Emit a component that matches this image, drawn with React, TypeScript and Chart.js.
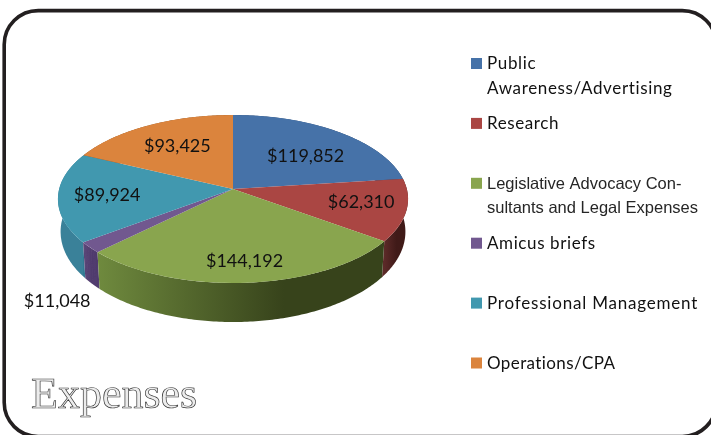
import React, { useEffect, useRef } from "react";
import { Chart, registerables } from "chart.js";

Chart.register(...registerables);

const categories = [
  "Public\nAwareness/Advertising",
  "Research",
  "Legislative Advocacy Con-\nsultants and Legal Expenses",
  "Amicus briefs",
  "Professional Management",
  "Operations/CPA",
];
const expenses = [119852, 62310, 144192, 11048, 89924, 93425];
const topColors = ["#4672A8", "#AA4643", "#89A54E", "#71588F", "#4198AF", "#DB843D"];
const wallStops = [
  ["#2c4669", "#2c4669"],
  ["#5c2a28", "#401a18"],
  ["#6f8a3e", "#37431b"],
  ["#5a4577", "#4f3a6d"],
  ["#3a8199", "#327a93"],
  ["#8a5326", "#8a5326"],
];
const labelRadius = [0.65, 0.75, 0.75, 1.3, 0.75, 0.65];
const labelNudgeX = [2, -1, 1, 15, 5, 1];
const labelNudgeY = [5, -3, 4, 34, 0, 0];
const legendSpacing = [0.65, 0.6, 0, 0.6, 0.8, 0.4];

const W = 711;
const H = 435;
const CX = 233;
const CY = 189;
const SRC_R = 175;
const R = 173.8;
const A = 82.8;
const K = -0.119;
const WALL_DY = 32;
const WALL_SX = 0.985;
const WALL_SY = 1.075;

function project(theta: number, t: number, lower = false) {
  const x = Math.cos(theta) * t;
  const y = Math.sin(theta) * t;
  const w = 1 + K * y;
  const sx = lower ? WALL_SX : 1;
  const sy = lower ? WALL_SY : 1;
  return { x: CX + (sx * R * x) / w, y: CY + (lower ? WALL_DY : 0) + (sy * A * y) / w };
}

const perspectivePie = {
  id: "perspectivePie",
  beforeDatasetsDraw(chart: any) {
    const ctx: CanvasRenderingContext2D = chart.ctx;
    const arcs = chart.getDatasetMeta(0).data as any[];
    const front = Math.PI / 2;
    const order = arcs
      .map((arc, i) => ({ arc, i, mid: (arc.startAngle + arc.endAngle) / 2 }))
      .sort((p, q) => {
        const d = (m: number) => Math.abs(Math.atan2(Math.sin(m - front), Math.cos(m - front)));
        return d(q.mid) - d(p.mid);
      });
    for (const { arc, i } of order) {
      const steps = 120;
      const x0 = project(arc.startAngle, 1).x;
      const x1 = project(arc.endAngle, 1).x;
      const g = ctx.createLinearGradient(Math.min(x0, x1), 0, Math.max(x0, x1), 0);
      g.addColorStop(0, wallStops[i][0]);
      g.addColorStop(0.65, wallStops[i][1]);
      g.addColorStop(1, wallStops[i][1]);
      ctx.fillStyle = g;
      // one path of swept edges, filled once, so no seams show between the steps
      ctx.beginPath();
      for (let s = 0; s < steps; s++) {
        const a = arc.startAngle + ((arc.endAngle - arc.startAngle) * s) / steps;
        const b = arc.startAngle + ((arc.endAngle - arc.startAngle) * (s + 1)) / steps;
        const p1 = project(a, 1);
        const p2 = project(b, 1);
        const p3 = project(b, 1, true);
        const p4 = project(a, 1, true);
        ctx.moveTo(p1.x, p1.y);
        ctx.lineTo(p2.x, p2.y);
        ctx.lineTo(p3.x, p3.y);
        ctx.lineTo(p4.x, p4.y);
        ctx.closePath();
      }
      ctx.fill();
    }
    const y0 = Math.floor(CY - 74) - 2;
    const y1 = Math.ceil(CY + 94) + 2;
    for (let row = y0; row < y1; row++) {
      const yp = row + 0.5 - CY;
      const yn = yp / (A - K * yp);
      const w = 1 + K * yn;
      const sx = R / (SRC_R * w);
      const sy = A / (w * w * SRC_R);
      ctx.save();
      ctx.beginPath();
      ctx.rect(0, row, W, 1);
      ctx.clip();
      ctx.translate(CX, CY + yp);
      ctx.scale(sx, sy);
      ctx.translate(-CX, -(CY + yn * SRC_R));
      arcs.forEach((arc) => arc.draw(ctx));
      ctx.restore();
    }
    return false;
  },
  afterDraw(chart: any) {
    const ctx: CanvasRenderingContext2D = chart.ctx;
    const arcs = chart.getDatasetMeta(0).data as any[];
    ctx.save();

    // frame
    ctx.strokeStyle = "#231f20";
    ctx.lineWidth = 3.6;
    ctx.beginPath();
    ctx.roundRect(4.2, 10.6, 712, 426, 34);
    ctx.stroke();

    // value labels
    ctx.textAlign = "center";
    ctx.textBaseline = "middle";
    ctx.fillStyle = "#111";
    ctx.font = "18px Lato";
    arcs.forEach((arc, i) => {
      const mid = (arc.startAngle + arc.endAngle) / 2;
      const p = project(mid, labelRadius[i]);
      const text = "$" + expenses[i].toLocaleString("en-US");
      ctx.fillText(text, p.x + labelNudgeX[i], p.y + labelNudgeY[i]);
    });

    // legend
    ctx.textAlign = "left";
    ctx.textBaseline = "alphabetic";
    categories.forEach((cat, i) => {
      const top = 58 + i * 59.9;
      ctx.fillStyle = topColors[i];
      ctx.fillRect(471, top, 11, 11);
      const isArial = i === 2;
      ctx.font = isArial ? "16.5px 'Liberation Sans'" : "17px Lato";
      (ctx as any).letterSpacing = legendSpacing[i] + "px";
      ctx.fillStyle = isArial ? "#262626" : "#111";
      cat.split("\n").forEach((line, n) => {
        ctx.fillText(line, 487, top + 11 + n * 24.5);
      });
    });
    (ctx as any).letterSpacing = "0px";

    // title
    ctx.font = "44px 'Liberation Serif'";
    ctx.fillStyle = "#ececec";
    ctx.strokeStyle = "#333";
    ctx.lineWidth = 0.65;
    ctx.fillText("Expenses", 31, 408);
    ctx.strokeText("Expenses", 31, 408);
    ctx.restore();
  },
};

export default function App() {
  const ref = useRef<HTMLCanvasElement>(null);
  useEffect(() => {
    document.body.style.margin = "0";
    const chart = new Chart(ref.current!, {
      type: "pie",
      data: {
        labels: categories,
        datasets: [{ data: expenses, backgroundColor: topColors, borderWidth: 0 }],
      },
      options: {
        responsive: false,
        animation: false,
        layout: {
          padding: {
            left: CX - SRC_R,
            right: W - CX - SRC_R,
            top: CY - SRC_R,
            bottom: H - CY - SRC_R,
          },
        },
        plugins: { legend: { display: false }, tooltip: { enabled: false } },
      },
      plugins: [perspectivePie],
    });
    return () => chart.destroy();
  }, []);
  return (
    <div style={{ position: "fixed", left: 0, top: 0, width: W, height: H, background: "#fff" }}>
      <canvas ref={ref} width={W} height={H} style={{ display: "block" }} />
    </div>
  );
}
